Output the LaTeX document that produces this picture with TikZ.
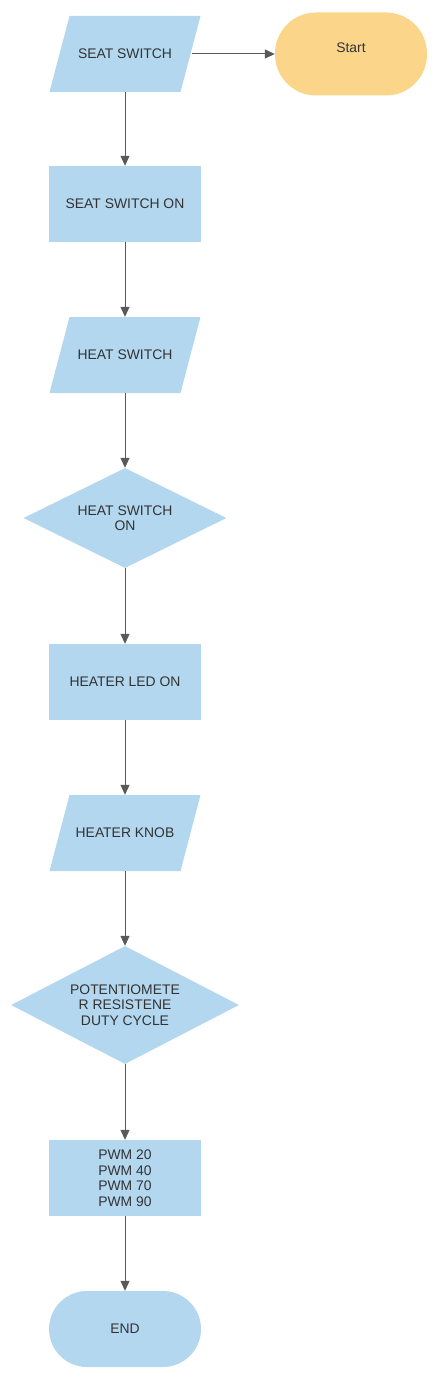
\documentclass[tikz,border=0pt]{standalone}
\usepackage{fontspec}
\setmainfont{Liberation Sans}
\usepackage{tikz}
\usetikzlibrary{shapes.geometric,arrows.meta}
\definecolor{boxblue}{HTML}{B3D7EF}
\definecolor{startyellow}{HTML}{FBD68A}
\definecolor{linegray}{HTML}{595959}
\definecolor{textgray}{HTML}{333333}
\tikzstyle{Box}=[fill=boxblue, text=textgray, inner sep=0, align=center, font=\fontsize{13.9}{15.5}\selectfont]
\tikzstyle{Process}=[Box, rectangle, minimum width=152, minimum height=76]
\tikzstyle{Data}=[Box, rectangle, fill=none, minimum width=151, minimum height=76,
    path picture={\fill[boxblue] ([xshift=20]path picture bounding box.north west) -- (path picture bounding box.north east)
    -- ([xshift=-20]path picture bounding box.south east) -- (path picture bounding box.south west) -- cycle;}]
\tikzstyle{Decision}=[Box, diamond]
\tikzstyle{Terminal}=[Box, rectangle, rounded corners=38, minimum width=152, minimum height=76]
\tikzstyle{Flow}=[draw=linegray, line width=1, -{Triangle[length=10,width=9]}]

\begin{document}
\begin{tikzpicture}[x=1pt, y=-1pt]
    \useasboundingbox (0,0) rectangle (440,1380);
    \path
    (125,54) node[Data] (seat) {SEAT SWITCH}
    (351,54) node[Terminal, fill=startyellow, minimum width=152, minimum height=83, rounded corners=41] (start) {\raisebox{12pt}{Start}}
    (125,204) node[Process] (seaton) {SEAT SWITCH ON}
    (125,355) node[Data] (heat) {HEAT SWITCH}
    (125,518) node[Decision, shape aspect=2, minimum width=203, minimum height=100] (heaton) {HEAT SWITCH\\ON}
    (125,682) node[Process] (led) {HEATER LED ON}
    (125,833) node[Data] (knob) {HEATER KNOB}
    (125,1005) node[Decision, shape aspect=1.93, minimum width=228, minimum height=118] (pot) {POTENTIOMETE\\R RESISTENE\\DUTY CYCLE}
    (125,1178) node[Process] (pwm) {PWM 20\\PWM 40\\PWM 70\\PWM 90}
    (125,1329) node[Terminal] (finish) {END};

    \draw[Flow] ([xshift=-9]seat.east) -- (start.west);
    \draw[Flow] (seat) -- (seaton);
    \draw[Flow] (seaton) -- (heat);
    \draw[Flow] (heat) -- (heaton);
    \draw[Flow] (heaton) -- (led);
    \draw[Flow] (led) -- (knob);
    \draw[Flow] (knob) -- (pot);
    \draw[Flow] (pot) -- (pwm);
    \draw[Flow] (pwm) -- (finish);
\end{tikzpicture}
\end{document}
